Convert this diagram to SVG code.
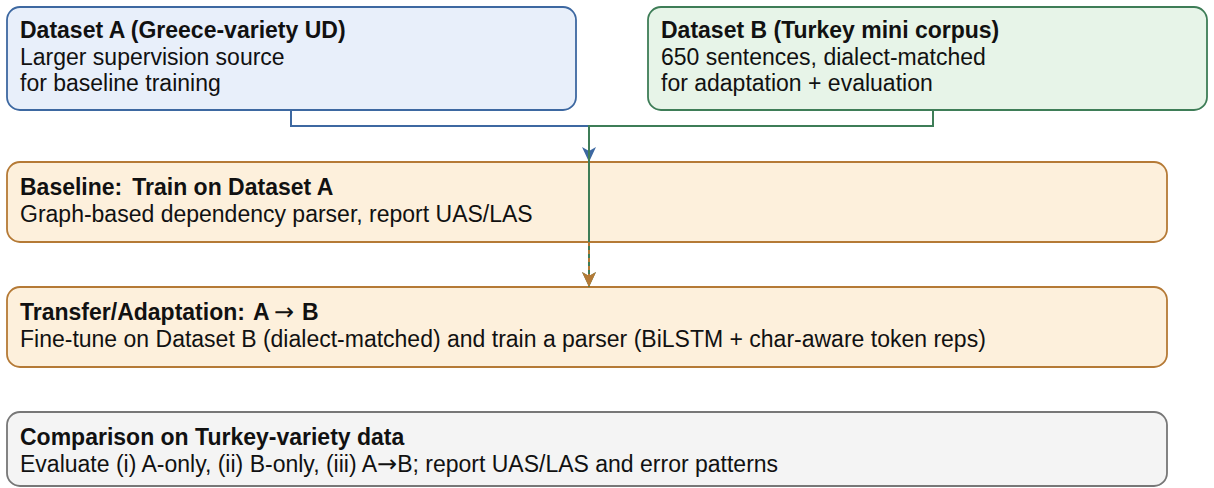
<svg xmlns="http://www.w3.org/2000/svg" width="1214" height="488" viewBox="0 0 1214 488">
<style>
text{font-family:"Liberation Sans",Arial,Helvetica,sans-serif;font-size:23px;fill:#111}
.t{font-weight:bold}
.arr{font-family:"DejaVu Sans",sans-serif;font-weight:normal;font-size:24px}
.box{stroke-width:1.8}
.a{fill:#e8effa;stroke:#3d68a1}
.b{fill:#e7f4e8;stroke:#3e7d57}
.o{fill:#fdf0dc;stroke:#b57a36}
.g{fill:#f4f4f4;stroke:#777}
.ln{fill:none;stroke-width:2}
</style>
<defs>
<marker id="mb" markerWidth="16" markerHeight="14" refX="15" refY="7" orient="auto" markerUnits="userSpaceOnUse"><path d="M0,0 L15,7 L0,14 L4,7 Z" fill="#3d68a1"/></marker>
<marker id="mg" markerWidth="16" markerHeight="14" refX="15" refY="7" orient="auto" markerUnits="userSpaceOnUse"><path d="M0,0 L15,7 L0,14 L4,7 Z" fill="#3e7d57"/></marker>
<marker id="mo" markerWidth="16" markerHeight="14" refX="15" refY="7" orient="auto" markerUnits="userSpaceOnUse"><path d="M0,0 L15,7 L0,14 L4,7 Z" fill="#b57a36"/></marker>
</defs>
<g id="datasetA">
<rect class="box a" x="7" y="7" width="569" height="103" rx="13"/>
<text class="t" x="20" y="38">Dataset A (Greece-variety UD)</text>
<text x="20" y="65">Larger supervision source</text>
<text x="20" y="91">for baseline training</text>
</g>
<g id="datasetB">
<rect class="box b" x="648" y="7" width="559" height="103" rx="13"/>
<text class="t" x="661" y="38">Dataset B (Turkey mini corpus)</text>
<text x="661" y="65">650 sentences, dialect-matched</text>
<text x="661" y="91">for adaptation + evaluation</text>
</g>
<g id="baseline">
<rect class="box o" x="7" y="162" width="1160" height="80" rx="13"/>
<text class="t" x="20" y="195">Baseline:<tspan dx="10">Train on Dataset A</tspan></text>
<text x="20" y="222">Graph-based dependency parser, report UAS/LAS</text>
</g>
<g id="transfer">
<rect class="box o" x="7" y="287" width="1160" height="80" rx="13"/>
<text class="t" x="20" y="320">Transfer/Adaptation:<tspan dx="8">A</tspan></text>
<text class="arr" x="274" y="320">→</text>
<text class="t" x="302" y="320">B</text>
<text x="20" y="347">Fine-tune on Dataset B (dialect-matched) and train a parser (BiLSTM + char-aware token reps)</text>
</g>
<g id="comparison">
<rect class="box g" x="7" y="412" width="1160" height="74" rx="13"/>
<text class="t" x="20" y="445">Comparison on Turkey-variety data</text>
<text x="20" y="472">Evaluate (i) A-only, (ii) B-only, (iii) A<tspan class="arr">→</tspan>B; report UAS/LAS and error patterns</text>
</g>
<g id="connectors">
<path class="ln" d="M291,110 V126 H589 V162" stroke="#3d68a1" marker-end="url(#mb)"/>
<path class="ln" d="M933,110 V126 H589 V287" stroke="#3e7d57" marker-end="url(#mg)"/>
<path class="ln" d="M589,242 V287" stroke="#b57a36" stroke-dasharray="4 4" marker-end="url(#mo)"/>
</g>
</svg>
